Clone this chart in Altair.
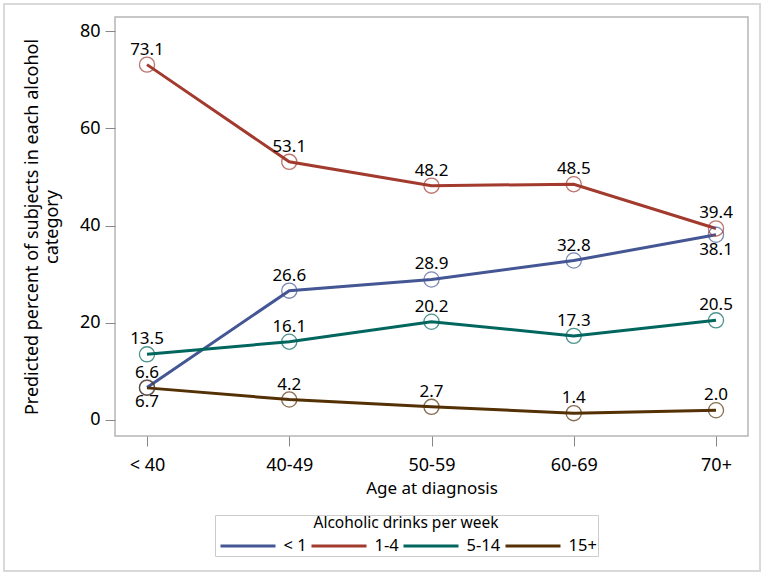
import altair as alt
import pandas as pd

ages = ["< 40", "40-49", "50-59", "60-69", "70+"]
groups = ["< 1", "1-4", "5-14", "15+"]
colors = ["#445694", "#A23A2E", "#01665E", "#543005"]

lt1 = [6.7, 26.6, 28.9, 32.8, 38.1]
d1_4 = [73.1, 53.1, 48.2, 48.5, 39.4]
d5_14 = [13.5, 16.1, 20.2, 17.3, 20.5]
d15 = [6.6, 4.2, 2.7, 1.4, 2.0]

# labels drawn under the point instead of above it
below = {("< 1", "< 40"), ("< 1", "70+")}

rows = []
for g, vals in zip(groups, [lt1, d1_4, d5_14, d15]):
    for a, v in zip(ages, vals):
        rows.append({"age": a, "group": g, "pct": v,
                     "label": f"{v:.1f}",
                     "pos": "below" if (g, a) in below else "above"})
df = pd.DataFrame(rows)

FONT = "Noto Sans"

x = alt.X("age:O", sort=ages, title="Age at diagnosis",
          scale=alt.Scale(type="point", padding=0.225),
          axis=alt.Axis(labelAngle=0, labelFontSize=18, titleFontSize=17,
                        labelColor="black", titleColor="black",
                        tickSize=10, tickColor="#888", domain=False,
                        labelPadding=10, titlePadding=6, titleFontWeight="normal"))
y = alt.Y("pct:Q", title=["Predicted percent of subjects in each alcohol", "category"],
          scale=alt.Scale(domain=[-3.3, 82.9], nice=False, zero=False),
          axis=alt.Axis(values=[0, 20, 40, 60, 80], labelFontSize=18, titleFontSize=18,
                        labelColor="black", titleColor="black", grid=False,
                        tickSize=10, tickColor="#888", domain=False,
                        labelPadding=5, titlePadding=18, titleFontWeight="normal"))
# leading en spaces nudge the centred legend title over the middle of the box
color = alt.Color("group:N", sort=groups,
                  scale=alt.Scale(domain=groups, range=colors),
                  legend=alt.Legend(title="\u2002\u2002\u2002Alcoholic drinks per week",
                                    orient="none",
                                    legendX=100, legendY=498, direction="horizontal",
                                    symbolType="M-2.75,0L2.75,0", symbolStrokeWidth=3,
                                    symbolSize=400, symbolOffset=20.5,
                                    titleAnchor="middle",
                                    titleFontSize=15.5, labelFontSize=16.5, titleLimit=0,
                                    titleFontWeight="normal", titleColor="black",
                                    labelColor="black", strokeColor="#cccccc",
                                    padding=1, titlePadding=3, columnPadding=-3,
                                    labelOffset=24))

base = alt.Chart(df)
frame = base.mark_rect(fill=None, stroke="#d9d9d9", strokeWidth=1.5).encode(
    x=alt.value(-111), x2=alt.value(645), y=alt.value(-13), y2=alt.value(554))
lines = base.mark_line(strokeWidth=3).encode(x=x, y=y, color=color)
points = base.mark_point(filled=False, size=230, strokeWidth=1.3).encode(
    x=x, y=y, color=alt.Color("group:N", sort=groups,
                              scale=alt.Scale(domain=groups, range=colors), legend=None))
above = base.transform_filter(alt.datum.pos == "above").mark_text(
    baseline="bottom", dy=-6, fontSize=17, font=FONT, color="black").encode(
    x=x, y=y, text="label:N")
under = base.transform_filter(alt.datum.pos == "below").mark_text(
    baseline="top", dy=7, fontSize=17, font=FONT, color="black").encode(
    x=x, y=y, text="label:N")

chart = alt.layer(frame, lines, points, above, under).properties(
    width=633, height=419,
    autosize=alt.AutoSizeParams(type="none"),
    padding={"left": 115, "top": 17, "right": 17, "bottom": 140},
).configure(font=FONT).configure_view(stroke="#b5b5b5", strokeWidth=1.5)

chart.save("out.html", embed_options={"renderer": "svg", "actions": False})
